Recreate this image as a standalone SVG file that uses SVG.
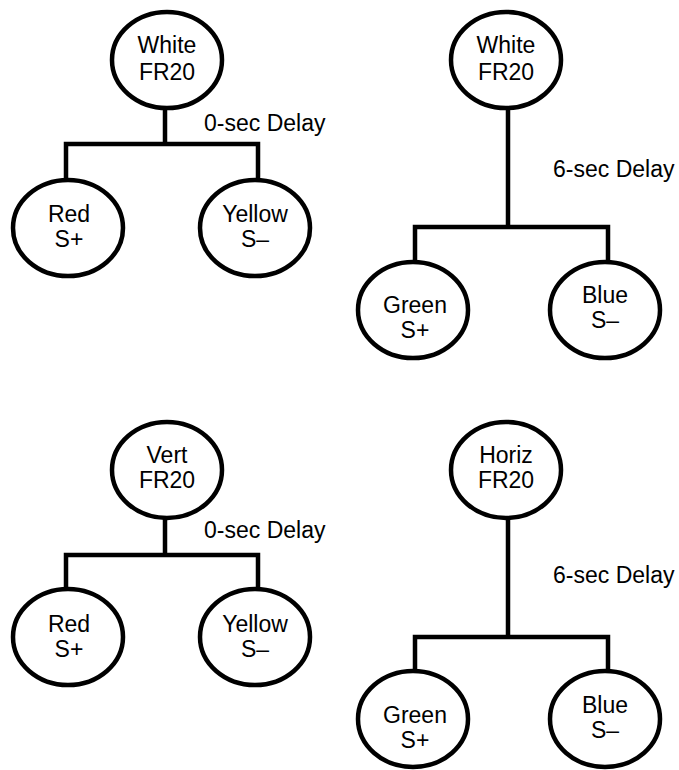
<svg xmlns="http://www.w3.org/2000/svg" width="679" height="770" viewBox="0 0 679 770">
<style>
.n{fill:#fff;stroke:#000;stroke-width:4.5}
.c{fill:none;stroke:#000;stroke-width:4.5;stroke-linecap:square;stroke-linejoin:miter}
text{font-family:"Liberation Sans",Arial,sans-serif;font-size:23px;fill:#000}
.m{text-anchor:middle}
</style>
<rect width="679" height="770" fill="#fff"/>
<g id="connectors">
<path class="c" d="M165 108V144M66 178V144H258V178"/>
<path class="c" d="M508 108V227M415 260V227H608V260"/>
<path class="c" d="M165 518V555M66 587V555H258V587"/>
<path class="c" d="M508 518V637M415 669V637H608V669"/>
</g>
<g id="labels">
<text x="204" y="131">0-sec Delay</text>
<text x="553" y="177">6-sec Delay</text>
<text x="204" y="538">0-sec Delay</text>
<text x="553" y="583">6-sec Delay</text>
</g>
<g id="tl-root"><ellipse class="n" cx="167" cy="60" rx="55" ry="48"/><text class="m" x="167" y="53">White</text><text class="m" x="167" y="80">FR20</text></g>
<g id="tl-red"><ellipse class="n" cx="68" cy="228" rx="55" ry="48"/><text class="m" x="69" y="222">Red</text><text class="m" x="69" y="247">S+</text></g>
<g id="tl-yellow"><ellipse class="n" cx="255" cy="228" rx="55" ry="48"/><text class="m" x="255" y="222">Yellow</text><text class="m" x="255" y="247">S–</text></g>
<g id="tr-root"><ellipse class="n" cx="506" cy="60" rx="55" ry="48"/><text class="m" x="506" y="53">White</text><text class="m" x="506" y="80">FR20</text></g>
<g id="tr-green"><ellipse class="n" cx="413" cy="310" rx="55" ry="48"/><text class="m" x="415" y="313">Green</text><text class="m" x="415" y="338">S+</text></g>
<g id="tr-blue"><ellipse class="n" cx="605" cy="310" rx="55" ry="48"/><text class="m" x="605" y="303">Blue</text><text class="m" x="605" y="328">S–</text></g>
<g id="bl-root"><ellipse class="n" cx="167" cy="470" rx="55" ry="48"/><text class="m" x="167" y="463">Vert</text><text class="m" x="167" y="488">FR20</text></g>
<g id="bl-red"><ellipse class="n" cx="68" cy="637" rx="55" ry="48"/><text class="m" x="69" y="632">Red</text><text class="m" x="69" y="657">S+</text></g>
<g id="bl-yellow"><ellipse class="n" cx="255" cy="637" rx="55" ry="48"/><text class="m" x="255" y="632">Yellow</text><text class="m" x="255" y="657">S–</text></g>
<g id="br-root"><ellipse class="n" cx="506" cy="470" rx="55" ry="48"/><text class="m" x="506" y="463">Horiz</text><text class="m" x="506" y="488">FR20</text></g>
<g id="br-green"><ellipse class="n" cx="413" cy="719" rx="55" ry="48"/><text class="m" x="415" y="723">Green</text><text class="m" x="415" y="748">S+</text></g>
<g id="br-blue"><ellipse class="n" cx="605" cy="719" rx="55" ry="48"/><text class="m" x="605" y="713">Blue</text><text class="m" x="605" y="738">S–</text></g>
</svg>
